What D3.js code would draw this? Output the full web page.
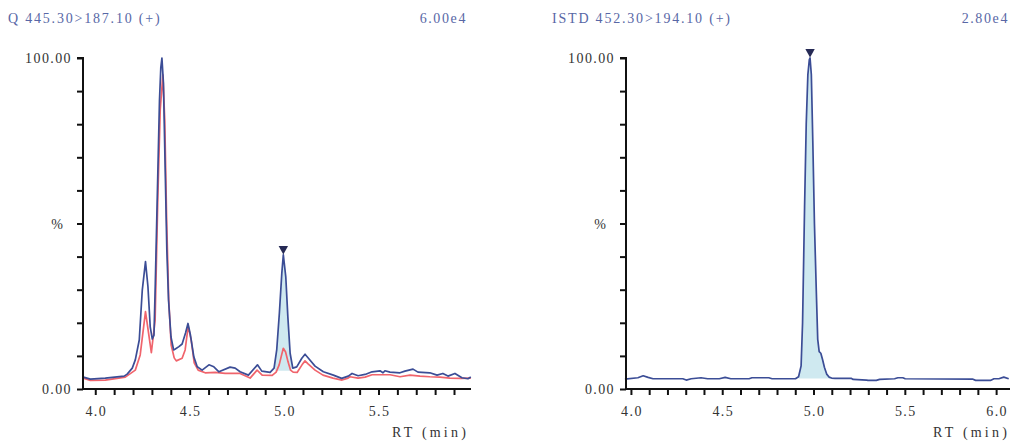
<!DOCTYPE html>
<html>
<head>
<meta charset="utf-8">
<script src="https://cdn.jsdelivr.net/npm/d3@7"></script>
<style>
  html, body { margin: 0; padding: 0; background: #fff; }
  svg text { font-family: "Liberation Serif", "DejaVu Serif", serif; }
</style>
</head>
<body>
<svg id="chart" width="1012" height="441"></svg>
<script>
// ---------------- data ----------------
const leftTitle = "Q 445.30>187.10 (+)";
const leftScaleLabel = "6.00e4";
const rightTitle = "ISTD 452.30>194.10 (+)";
const rightScaleLabel = "2.80e4";
const xAxisTitle = "RT (min)";
const yTickLabels = ["0.00", "%", "100.00"];
const yTickLabelValues = [0, 50, 100];
const xTickLabels = ["4.0", "4.5", "5.0", "5.5", "6.0"];
const xTickLabelValues = [4.0, 4.5, 5.0, 5.5, 6.0];

// Left panel: quantifier trace (blue)
const leftBlueRT = [3.937,3.974,4.053,4.153,4.169,4.196,4.212,4.233,4.249,4.266,4.279,4.291,4.302,4.311,4.318,4.330,4.340,4.347,4.353,4.361,4.370,4.379,4.388,4.401,4.415,4.422,4.443,4.460,4.478,4.491,4.504,4.522,4.540,4.566,4.602,4.628,4.655,4.714,4.741,4.767,4.811,4.859,4.882,4.926,4.947,4.961,4.975,4.988,4.996,5.009,5.020,5.032,5.046,5.067,5.094,5.111,5.129,5.164,5.208,5.261,5.305,5.340,5.360,5.392,5.429,5.466,5.508,5.524,5.534,5.561,5.614,5.640,5.683,5.709,5.772,5.810,5.841,5.868,5.905,5.942,5.974,5.989];
const leftBlueInt = [3.6,3.0,3.3,3.9,4.5,6.3,8.8,14.8,29.9,38.5,30.9,18.8,15.1,16.3,32.0,62.0,87.0,97.0,100,92.5,67.2,42.0,26.9,15.7,11.8,12.0,12.8,13.6,16.9,19.8,16.3,9.7,6.7,5.7,7.3,6.7,5.2,6.6,6.3,5.2,4.2,7.3,5.4,5.0,6.3,11.8,22.9,35.0,40.5,33.9,21.8,10.8,6.3,6.7,9.3,10.5,9.3,6.9,5.2,4.2,3.2,3.9,4.7,4.0,4.4,5.2,5.5,4.9,5.5,5.1,4.9,5.4,6.0,5.1,4.9,4.2,4.7,3.9,4.7,3.4,3.1,3.6];

// Left panel: qualifier trace (red)
const leftRedRT = [3.937,3.974,4.053,4.159,4.212,4.238,4.254,4.266,4.280,4.297,4.317,4.331,4.344,4.358,4.368,4.378,4.389,4.402,4.418,4.429,4.460,4.476,4.492,4.508,4.524,4.545,4.582,4.635,4.688,4.767,4.820,4.857,4.884,4.937,4.958,4.974,4.987,4.996,5.008,5.021,5.034,5.048,5.069,5.095,5.111,5.127,5.164,5.206,5.259,5.307,5.339,5.349,5.392,5.429,5.466,5.561,5.614,5.667,5.720,5.772,5.825,5.878,5.931,5.989];
const leftRedInt = [3.3,2.6,2.7,3.6,5.7,10.3,17.8,23.4,17.8,11.0,20.8,57.1,84.3,94.9,81.3,51.1,26.9,13.3,9.4,8.5,9.3,11.8,19.0,14.8,7.9,5.7,4.9,5.0,4.7,4.7,3.3,5.7,4.2,4.1,5.1,7.3,10.3,12.3,11.2,8.2,5.7,5.1,5.0,7.3,8.5,7.6,5.7,4.2,3.3,2.7,3.3,3.7,3.3,3.6,4.3,4.3,3.7,4.2,3.9,3.7,3.6,3.3,3.2,3.3];

// Right panel: internal standard trace (blue)
const rightRT = [3.967,4.038,4.067,4.094,4.121,4.284,4.303,4.330,4.384,4.420,4.484,4.516,4.547,4.647,4.663,4.755,4.773,4.901,4.918,4.932,4.940,4.951,4.960,4.969,4.977,4.981,4.988,4.996,5.005,5.015,5.023,5.031,5.040,5.049,5.060,5.072,5.085,5.099,5.118,5.208,5.217,5.290,5.299,5.344,5.362,5.444,5.462,5.489,5.502,5.870,5.888,5.969,5.988,6.015,6.042,6.069];
const rightInt = [3.0,3.4,4.0,3.5,3.1,3.1,2.7,3.1,3.4,3.1,3.1,3.5,3.1,3.1,3.4,3.4,3.1,3.1,3.7,7.0,20.0,55.0,80.0,95.0,99.5,100,95.0,75.0,50.0,30.0,15.0,11.3,10.8,9.0,6.5,4.5,3.6,3.3,3.2,3.2,2.9,2.7,2.6,2.6,2.9,3.1,3.4,3.4,3.1,3.0,2.6,2.6,3.1,3.1,3.6,3.1];

// integrated peak windows [start, end, baseline]
const leftPeakWindow = [4.952, 5.041, 5.5];
const rightPeakWindow = [4.918, 5.099, 3.2];

// ---------------- drawing ----------------
const svg = d3.select("#chart");
const BLUE = "#3b4d96", RED = "#f0646c", FILL = "#cfe9f0", MARK = "#262a55";
const HEAD = "#5867a6", TXT = "#333333";

function interp(rt, it, t) {
  const i = d3.bisectLeft(rt, t);
  if (i <= 0) return it[0];
  if (i >= rt.length) return it[it.length - 1];
  const f = (t - rt[i-1]) / (rt[i] - rt[i-1]);
  return it[i-1] + f * (it[i] - it[i-1]);
}

function panel(cfg) {
  const g = svg.append("g");
  const x = d3.scaleLinear().domain(cfg.xDomain).range(cfg.xRange);
  const y = d3.scaleLinear().domain([0, 100]).range([389, 58]);

  // headers
  g.append("text").attr("x", cfg.titleX).attr("y", 23).attr("fill", HEAD)
    .attr("font-size", 14).attr("letter-spacing", 1.8).text(cfg.title);
  g.append("text").attr("x", cfg.scaleX).attr("y", 23).attr("fill", HEAD)
    .attr("font-size", 14).attr("letter-spacing", 1.6).attr("text-anchor", "end").text(cfg.scaleLabel);

  // peak fill
  const [s, e, base] = cfg.peak;
  const fillPts = [[s, interp(cfg.rt, cfg.it, s)]];
  cfg.rt.forEach((t, i) => { if (t > s && t < e) fillPts.push([t, cfg.it[i]]); });
  fillPts.push([e, interp(cfg.rt, cfg.it, e)]);
  g.append("path").datum(fillPts)
    .attr("d", d3.area().x(d => x(d[0])).y0(y(base)).y1(d => y(d[1])))
    .attr("fill", FILL);

  // traces
  const line = d3.line().x(d => x(d[0])).y(d => y(d[1]));
  (cfg.extra || []).forEach(tr => {
    g.append("path").datum(tr.rt.map((t, i) => [t, tr.it[i]]))
      .attr("d", line).attr("fill", "none").attr("stroke", tr.color)
      .attr("stroke-width", 1.7).attr("stroke-linejoin", "round");
  });
  g.append("path").datum(cfg.rt.map((t, i) => [t, cfg.it[i]]))
    .attr("d", line).attr("fill", "none").attr("stroke", BLUE)
    .attr("stroke-width", 1.7).attr("stroke-linejoin", "round");

  // peak marker
  const pk = d3.maxIndex(cfg.it.map((v, i) => (cfg.rt[i] >= s && cfg.rt[i] <= e) ? v : -1));
  const px = x(cfg.rt[pk]), py = y(cfg.it[pk]);
  g.append("path")
    .attr("d", `M${px-4.7},${py-9} L${px+4.7},${py-9} L${px},${py-0.5} Z`)
    .attr("fill", MARK);

  // y axis
  const yAxis = d3.axisLeft(y).tickValues(d3.range(0, 101, 10)).tickSize(6).tickFormat("");
  const ya = g.append("g").attr("transform", `translate(${cfg.xRange[0]},0)`).call(yAxis);
  ya.select(".domain").attr("stroke", "#111").attr("stroke-width", 2).attr("d", `M-6,${y(100)}H0V${y(0)}`);
  ya.selectAll(".tick line").attr("stroke", "#111").attr("stroke-width", 2);
  yTickLabelValues.forEach((v, i) => {
    g.append("text").attr("x", v === 50 ? cfg.xRange[0] - 20 : cfg.xRange[0] - 11)
      .attr("y", y(v) + 5).attr("text-anchor", "end").attr("fill", TXT)
      .attr("font-size", 14).attr("letter-spacing", v === 50 ? 0 : 1.4).text(yTickLabels[i]);
  });

  // x axis
  const ticks = d3.range(Math.ceil(cfg.xDomain[0]*10), Math.floor(cfg.xDomain[1]*10) + 1).map(d => d / 10);
  const xAxis = d3.axisBottom(x).tickValues(ticks).tickSize(6).tickFormat("");
  const xa = g.append("g").attr("transform", `translate(0,${y(0)})`).call(xAxis);
  xa.select(".domain").attr("stroke", "#111").attr("stroke-width", 2).attr("d", `M${cfg.xRange[0]},0H${cfg.xRange[1]}`);
  xa.selectAll(".tick line").attr("stroke", "#111").attr("stroke-width", 2);
  xTickLabelValues.forEach((v, i) => {
    if (v < cfg.xDomain[0] || v > cfg.xDomain[1]) return;
    g.append("text").attr("x", x(v) + 1).attr("y", 416).attr("text-anchor", "middle")
      .attr("fill", TXT).attr("font-size", 14).attr("letter-spacing", 1.4).text(xTickLabels[i]);
  });
  g.append("text").attr("x", cfg.rtLabelX).attr("y", 437).attr("text-anchor", "end")
    .attr("fill", TXT).attr("font-size", 14).attr("letter-spacing", 3.2).text(xAxisTitle);
}

panel({
  xDomain: [3.935, 5.99], xRange: [83, 471],
  title: leftTitle, titleX: 8, scaleLabel: leftScaleLabel, scaleX: 467,
  rt: leftBlueRT, it: leftBlueInt,
  extra: [{ rt: leftRedRT, it: leftRedInt, color: RED }],
  peak: leftPeakWindow, rtLabelX: 469
});
panel({
  xDomain: [3.973, 6.076], xRange: [626, 1010],
  title: rightTitle, titleX: 552, scaleLabel: rightScaleLabel, scaleX: 1009,
  rt: rightRT, it: rightInt,
  peak: rightPeakWindow, rtLabelX: 1010
});
</script>
</body>
</html>
